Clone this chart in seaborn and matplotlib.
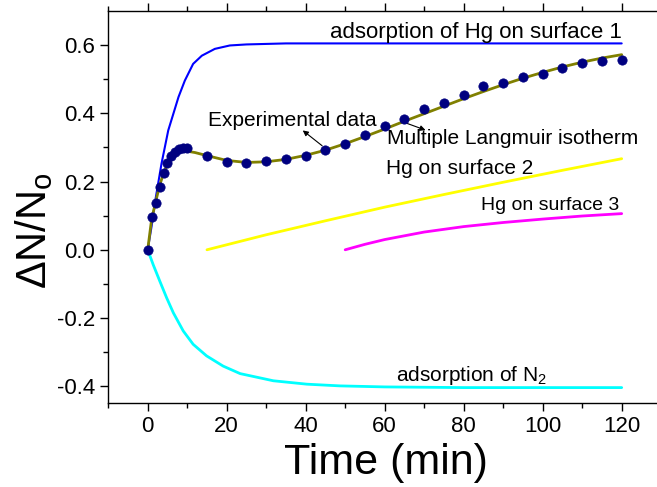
import matplotlib.pyplot as plt
import seaborn as sns

# experimental points
t_exp = [0, 1, 2, 3, 4, 5, 6, 7, 8, 9, 10, 15, 20, 25, 30, 35, 40, 45, 50, 55,
         60, 65, 70, 75, 80, 85, 90, 95, 100, 105, 110, 115, 120]
y_exp = [0.0, 0.095, 0.138, 0.185, 0.224, 0.255, 0.274, 0.287, 0.294, 0.297, 0.299,
         0.276, 0.258, 0.254, 0.260, 0.266, 0.275, 0.292, 0.309, 0.336, 0.363, 0.384,
         0.412, 0.430, 0.454, 0.480, 0.490, 0.507, 0.516, 0.532, 0.547, 0.553, 0.555]

# multiple langmuir fit
t_fit = [0, 1, 2, 3, 4, 5, 6, 7, 8, 9, 10, 12, 15, 20, 25, 30, 35, 40, 45, 50, 55,
         60, 65, 70, 75, 80, 85, 90, 95, 100, 105, 110, 115, 120]
y_fit = [0.0, 0.09, 0.14, 0.188, 0.224, 0.25, 0.268, 0.279, 0.286, 0.289, 0.289, 0.285,
         0.276, 0.262, 0.256, 0.258, 0.265, 0.277, 0.292, 0.311, 0.332, 0.354, 0.377,
         0.399, 0.421, 0.443, 0.464, 0.484, 0.503, 0.52, 0.536, 0.55, 0.562, 0.572]

# Hg surface 1
t_s1 = [0, 1, 2, 3.5, 5.2, 7.8, 9.4, 11.5, 13.7, 17, 20.8, 25, 35, 60, 90, 120]
y_s1 = [0.0, 0.07, 0.15, 0.253, 0.35, 0.448, 0.496, 0.545, 0.569, 0.589, 0.599, 0.602,
        0.605, 0.605, 0.605, 0.605]

# Hg surface 2
t_s2 = [15, 30, 45, 60, 75, 90, 105, 120]
y_s2 = [0.0, 0.044, 0.085, 0.125, 0.162, 0.198, 0.233, 0.267]

# Hg surface 3
t_s3 = [50, 55, 60, 70, 80, 90, 100, 110, 120]
y_s3 = [0.0, 0.016, 0.03, 0.052, 0.068, 0.08, 0.09, 0.099, 0.106]

# N2
t_n2 = [0, 1.4, 3.1, 4.8, 6.5, 9, 11.5, 14.9, 19.1, 23.4, 31.8, 40.3, 48.7, 60, 80, 100, 120]
y_n2 = [0.0, -0.044, -0.093, -0.141, -0.185, -0.238, -0.277, -0.311, -0.341, -0.363,
        -0.384, -0.394, -0.399, -0.402, -0.404, -0.404, -0.404]

sns.set_style('ticks')
plt.rcParams['font.family'] = ['Liberation Sans', 'DejaVu Sans']
plt.rcParams['mathtext.default'] = 'regular'
for k in ['text.color', 'axes.labelcolor', 'xtick.color', 'ytick.color']:
    plt.rcParams[k] = 'black'

fig, ax = plt.subplots(figsize=(6.57, 4.87), dpi=100)
ax.set_position([0.1647, 0.1719, 0.9018, 0.8055])

sns.lineplot(x=t_s1, y=y_s1, color='#0000ff', linewidth=1.5, estimator=None, ax=ax)
sns.lineplot(x=t_n2, y=y_n2, color='#00ffff', linewidth=2, estimator=None, ax=ax)
sns.lineplot(x=t_s2, y=y_s2, color='#ffff00', linewidth=2, estimator=None, ax=ax)
sns.lineplot(x=t_s3, y=y_s3, color='#ff00ff', linewidth=2, estimator=None, ax=ax)
sns.lineplot(x=t_fit, y=y_fit, color='#808000', linewidth=2, estimator=None, ax=ax)
sns.scatterplot(x=t_exp, y=y_exp, color='#000080', s=45, edgecolor='#000080',
                linewidth=0.5, zorder=5, ax=ax)

ax.set_xlim(-10, 140)
ax.set_ylim(-0.45, 0.7)
ax.set_xticks(range(0, 121, 20))
ax.set_xticks(range(-10, 141, 10), minor=True)
ax.set_yticks([-0.4, -0.2, 0.0, 0.2, 0.4, 0.6])
ax.set_yticklabels(['-0.4', '-0.2', '0.0', '0.2', '0.4', '0.6'])
ax.set_yticks([-0.3, -0.1, 0.1, 0.3, 0.5], minor=True)

for s in ax.spines.values():
    s.set_linewidth(1.0)
    s.set_color('black')
ax.tick_params(which='both', direction='out', top=True, right=False, labelsize=16,
               color='black', width=1.0)
ax.tick_params(which='major', length=6)
ax.tick_params(which='minor', length=3.5)

ax.set_xlabel('Time (min)', fontsize=31)
ax.xaxis.set_label_coords(0.469, -0.1)
ax.set_ylabel('ΔN/N$_o$', fontsize=30)
ax.yaxis.set_label_coords(-0.09, 0.44)

fs = 15
ax.text(120, 0.638, 'adsorption of Hg on surface 1', ha='right', va='center', fontsize=16)
ax.text(15.2, 0.38, 'Experimental data', ha='left', va='center', fontsize=fs)
ax.text(60.5, 0.326, 'Multiple Langmuir isotherm', ha='left', va='center', fontsize=fs)
ax.text(60.3, 0.238, 'Hg on surface 2', ha='left', va='center', fontsize=fs)
ax.text(119.5, 0.131, 'Hg on surface 3', ha='right', va='center', fontsize=14)
ax.text(62.9, -0.37, 'adsorption of N$_2$', ha='left', va='center', fontsize=fs)

ax.annotate('', xy=(38.7, 0.355), xytext=(44.7, 0.3),
            arrowprops=dict(arrowstyle='-|>', color='black', lw=0.8, mutation_scale=8))
ax.annotate('', xy=(71.0, 0.348), xytext=(63.4, 0.38),
            arrowprops=dict(arrowstyle='-|>', color='black', lw=0.8, mutation_scale=8))

plt.savefig('out.png', dpi=100)
